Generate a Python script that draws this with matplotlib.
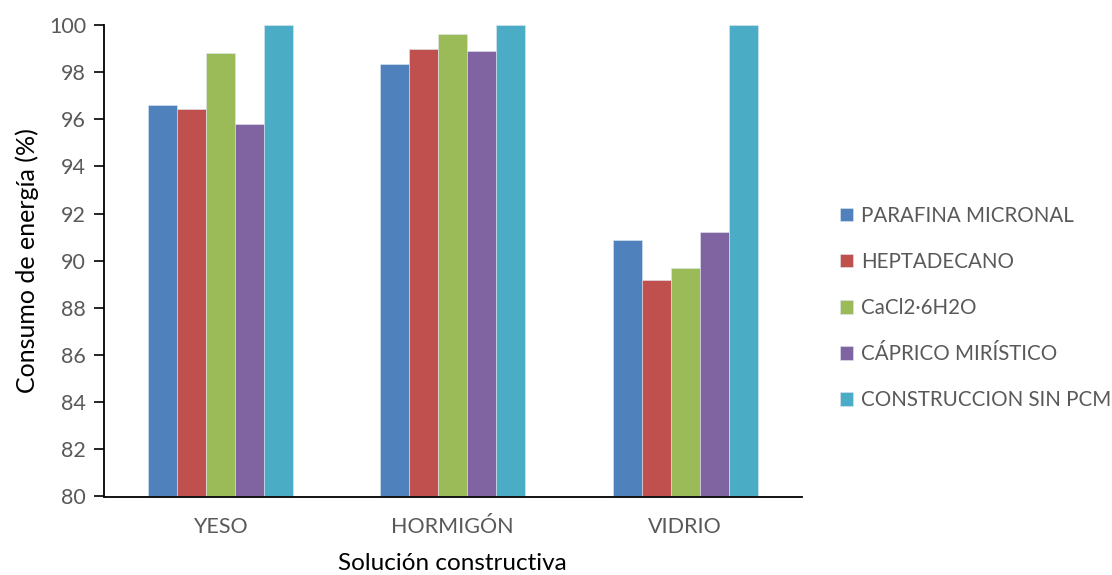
import matplotlib.pyplot as plt
import numpy as np

plt.rcParams['font.family'] = ['Lato', 'DejaVu Sans']

soluciones = ['YESO', 'HORMIGÓN', 'VIDRIO']
series = ['PARAFINA MICRONAL', 'HEPTADECANO', 'CaCl2·6H2O',
          'CÁPRICO MIRÍSTICO', 'CONSTRUCCION SIN PCM']
parafina = [96.6, 98.35, 90.9]
heptadecano = [96.45, 99.0, 89.2]
cacl2 = [98.8, 99.6, 89.7]
caprico = [95.8, 98.9, 91.2]
sin_pcm = [100.0, 100.0, 100.0]
colores = ['#4F81BD', '#C0504D', '#9BBB59', '#8064A2', '#4BACC6']

gris = '#595959'

fig = plt.figure(figsize=(11.12, 5.75), dpi=100)
ax = fig.add_axes([104 / 1112, 1 - 496.5 / 575, 697.5 / 1112, 471.5 / 575])

x = np.arange(len(soluciones))
ancho = 1 / 8  # 5 barras + hueco de 3 anchos por categoría
for i, (nombre, valores) in enumerate(zip(series, [parafina, heptadecano, cacl2, caprico, sin_pcm])):
    ax.bar(x + (i - 2) * ancho, np.array(valores) - 80, bottom=80, width=ancho,
           color=colores[i], label=nombre, edgecolor='#dfe6ee', linewidth=0.4)

ax.set_xlim(-0.5, 2.5)
ax.set_ylim(80, 100)
ax.set_yticks(np.arange(80, 101, 2))
ax.set_xticks(x)
ax.set_xticklabels(soluciones)
ax.tick_params(axis='y', length=7, width=1.2, colors='black', labelcolor=gris,
               labelsize=15.5, pad=6)
ax.tick_params(axis='x', length=0, labelcolor=gris, labelsize=15.5, pad=15)
for lado in ['top', 'right']:
    ax.spines[lado].set_visible(False)
ax.spines['left'].set_linewidth(1.3)
ax.spines['bottom'].set_linewidth(1.3)

ax.set_ylabel('Consumo de energía (%)', fontsize=18, labelpad=7)
ax.set_xlabel('Solución constructiva', fontsize=17.5, labelpad=11)

leg = ax.legend(loc='center left', bbox_to_anchor=(1.028, 0.40), frameon=False,
                fontsize=14.8, handlelength=0.65, handleheight=0.65,
                handletextpad=0.4, labelspacing=1.27, labelcolor=gris)

plt.savefig('out.png', dpi=100)
